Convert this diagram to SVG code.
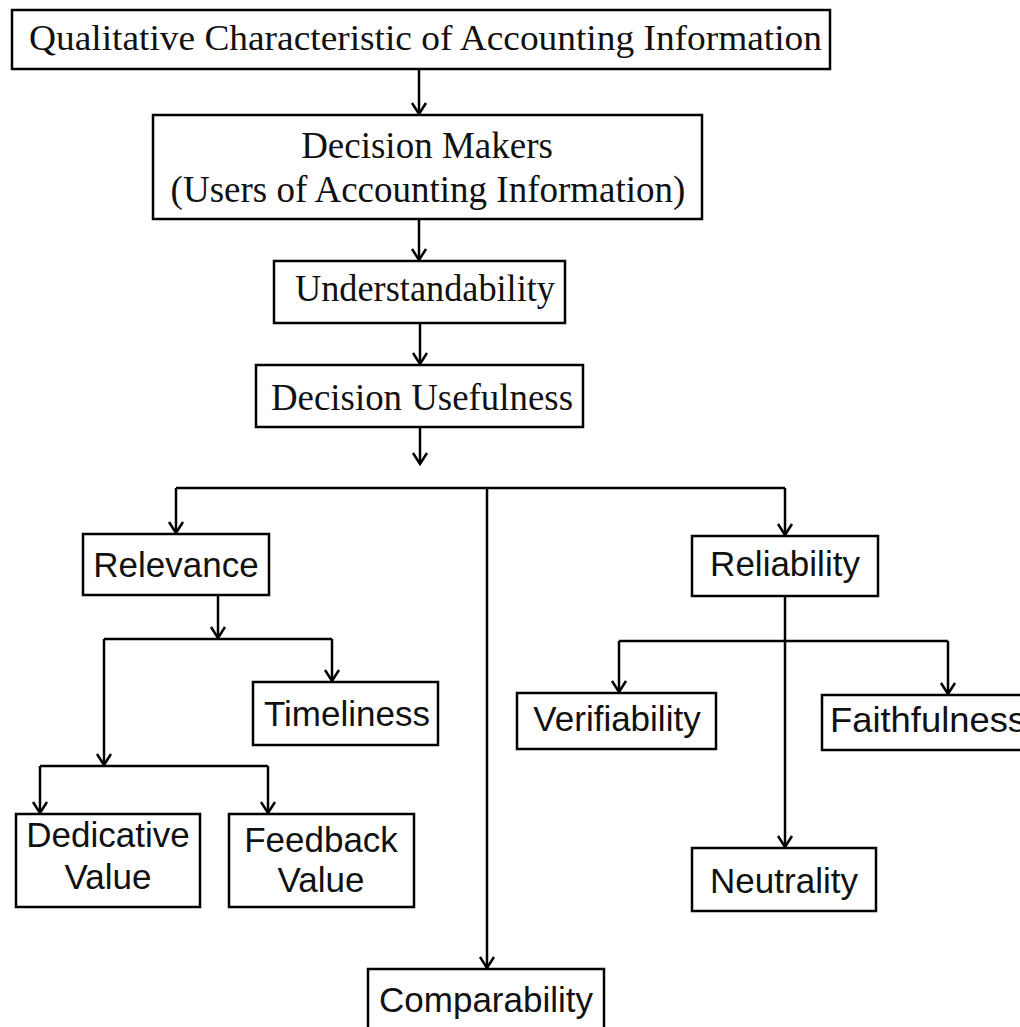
<svg xmlns="http://www.w3.org/2000/svg" width="1020" height="1027" viewBox="0 0 1020 1027">
<style>
.box{fill:#fff;stroke:#000;stroke-width:2.5}
.serif{font-family:"Liberation Serif","Times New Roman",serif;fill:#111}
.sans{font-family:"Liberation Sans",Arial,sans-serif;font-size:35px;fill:#111}
.c{fill:none;stroke:#000;stroke-width:2.5}
</style>
<defs>
<marker id="ah" markerUnits="userSpaceOnUse" markerWidth="24" markerHeight="24" refX="14" refY="12" orient="auto" viewBox="0 0 24 24">
<path d="M3,5 L14,12 L3,19" fill="none" stroke="#000" stroke-width="2.5"/>
</marker>
</defs>
<rect width="1020" height="1027" fill="#fff"/>
<g id="connectors">
<path class="c" d="M419,69 V114" marker-end="url(#ah)"/>
<path class="c" d="M419,219 V260" marker-end="url(#ah)"/>
<path class="c" d="M420,323 V364" marker-end="url(#ah)"/>
<path class="c" d="M420,427 V464" marker-end="url(#ah)"/>
<path class="c" d="M176,488 H785"/>
<path class="c" d="M176,488 V533" marker-end="url(#ah)"/>
<path class="c" d="M785,488 V535" marker-end="url(#ah)"/>
<path class="c" d="M487,488 V968" marker-end="url(#ah)"/>
<path class="c" d="M218,595 V638" marker-end="url(#ah)"/>
<path class="c" d="M104,639 H332"/>
<path class="c" d="M332,639 V681" marker-end="url(#ah)"/>
<path class="c" d="M104,639 V765" marker-end="url(#ah)"/>
<path class="c" d="M40,766 H268"/>
<path class="c" d="M40,766 V813" marker-end="url(#ah)"/>
<path class="c" d="M268,766 V813" marker-end="url(#ah)"/>
<path class="c" d="M785,596 V847" marker-end="url(#ah)"/>
<path class="c" d="M619,641 H948"/>
<path class="c" d="M619,641 V692" marker-end="url(#ah)"/>
<path class="c" d="M948,641 V694" marker-end="url(#ah)"/>
</g>
<g id="n-qualitative">
<rect class="box" x="12" y="10" width="818" height="59"/>
<text class="serif" x="29" y="50" font-size="35" textLength="793" lengthAdjust="spacingAndGlyphs">Qualitative Characteristic of Accounting Information</text>
</g>
<g id="n-decision-makers">
<rect class="box" x="153" y="115" width="549" height="104"/>
<text class="serif" x="427" y="158" font-size="37" text-anchor="middle">Decision Makers</text>
<text class="serif" x="428" y="202" font-size="37" text-anchor="middle">(Users of Accounting Information)</text>
</g>
<g id="n-understandability">
<rect class="box" x="274" y="261" width="291" height="62"/>
<text class="serif" x="295" y="301" font-size="37" textLength="260" lengthAdjust="spacingAndGlyphs">Understandability</text>
</g>
<g id="n-decision-usefulness">
<rect class="box" x="256" y="365" width="327" height="62"/>
<text class="serif" x="271" y="410" font-size="37" textLength="302" lengthAdjust="spacingAndGlyphs">Decision Usefulness</text>
</g>
<g id="n-relevance">
<rect class="box" x="83" y="534" width="186" height="61"/>
<text class="sans" x="176" y="577" text-anchor="middle">Relevance</text>
</g>
<g id="n-reliability">
<rect class="box" x="692" y="536" width="186" height="60"/>
<text class="sans" x="785" y="576" text-anchor="middle">Reliability</text>
</g>
<g id="n-timeliness">
<rect class="box" x="253" y="682" width="185" height="63"/>
<text class="sans" x="347" y="726" text-anchor="middle">Timeliness</text>
</g>
<g id="n-verifiability">
<rect class="box" x="517" y="693" width="199" height="56"/>
<text class="sans" x="617" y="731" text-anchor="middle">Verifiability</text>
</g>
<g id="n-faithfulness">
<rect class="box" x="822" y="695" width="220" height="55"/>
<text class="sans" x="830" y="732" textLength="196" lengthAdjust="spacingAndGlyphs">Faithfulness</text>
</g>
<g id="n-dedicative">
<rect class="box" x="16" y="814" width="184" height="93"/>
<text class="sans" x="108" y="847" text-anchor="middle">Dedicative</text>
<text class="sans" x="108" y="889" text-anchor="middle">Value</text>
</g>
<g id="n-feedback">
<rect class="box" x="229" y="814" width="185" height="93"/>
<text class="sans" x="321" y="852" text-anchor="middle">Feedback</text>
<text class="sans" x="321" y="892" text-anchor="middle">Value</text>
</g>
<g id="n-neutrality">
<rect class="box" x="692" y="848" width="184" height="63"/>
<text class="sans" x="784" y="893" text-anchor="middle">Neutrality</text>
</g>
<g id="n-comparability">
<rect class="box" x="368" y="969" width="236" height="80"/>
<text class="sans" x="486" y="1012" text-anchor="middle">Comparability</text>
</g>
</svg>
